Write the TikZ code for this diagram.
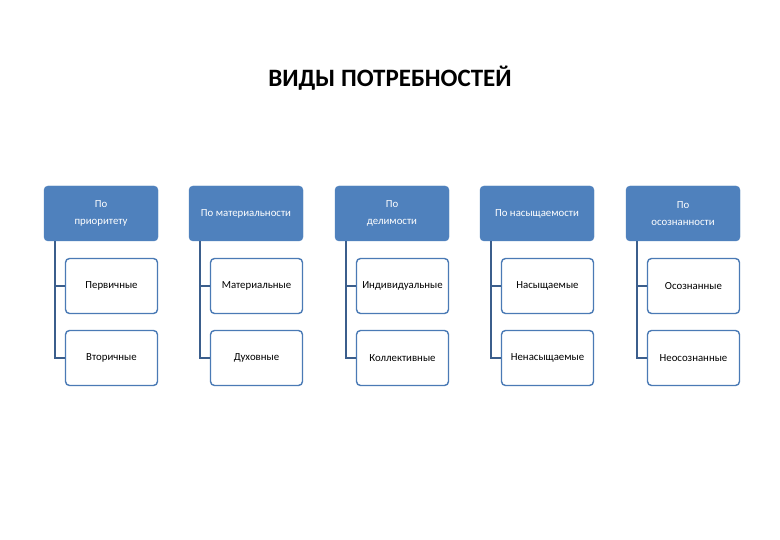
\documentclass[tikz,border=0pt]{standalone}
\usepackage{fontspec}
\setmainfont{Carlito}
\definecolor{hdr}{HTML}{4F81BD}
\definecolor{brd}{HTML}{4A7AB5}
\definecolor{lnk}{HTML}{3B5E8C}
\begin{document}
\begin{tikzpicture}[x=1pt,y=-1pt,
  hbox/.style={draw=hdr,fill=hdr,rounded corners=4pt,minimum width=114pt,minimum height=55pt,text=white,font=\fontsize{10.8}{17}\selectfont,align=center,inner sep=0pt},
  cbox/.style={draw=brd,line width=1.4pt,fill=white,rounded corners=4pt,minimum width=92pt,minimum height=55pt,font=\fontsize{10.8}{12}\selectfont,inner sep=0pt},
  lnk/.style={draw=lnk,line width=1.6pt}]
\useasboundingbox[fill=white] (0,0) rectangle (780,540);
\node[font=\bfseries\fontsize{25}{28}\selectfont] (title) at (390,78) {ВИДЫ ПОТРЕБНОСТЕЙ};
\foreach \i/\x/\h/\a/\b in {1/101/{По\\приоритету}/Первичные/Вторичные,
  2/246/{По материальности}/Материальные/Духовные,
  3/392/{По\\делимости}/Индивидуальные/Коллективные,
  4/537/{По насыщаемости}/Насыщаемые/Ненасыщаемые,
  5/683/{По\\осознанности}/Осознанные/Неосознанные}{
  \node[hbox] (h\i) at (\x,213.5) {\h};
  \coordinate (v\i) at ([xshift=11pt]h\i.south west);
  \node[cbox] (a\i) at (\x+10.5,286) {\a};
  \node[cbox] (b\i) at (\x+10.5,358) {\b};
  \draw[lnk] (v\i) |- (a\i.west);
  \draw[lnk] (v\i) |- (b\i.west);
}
\end{tikzpicture}
\end{document}
